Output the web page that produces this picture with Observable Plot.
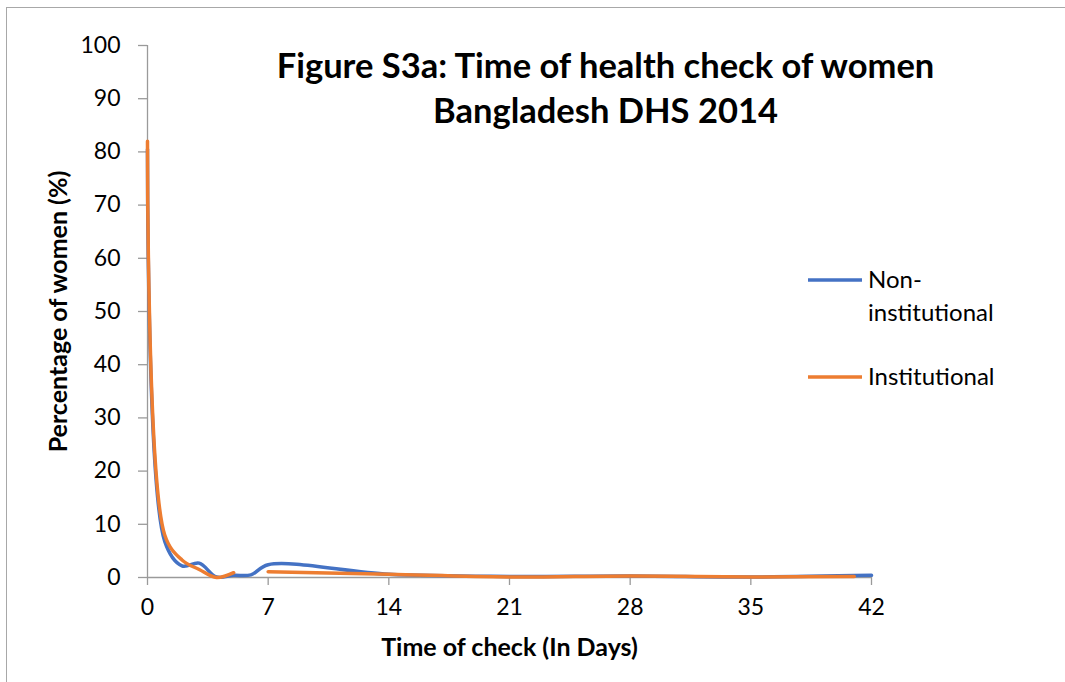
<!DOCTYPE html>
<html><head><meta charset="utf-8">
<script src="https://cdn.jsdelivr.net/npm/d3@7"></script>
<script src="https://cdn.jsdelivr.net/npm/@observablehq/plot@0.6"></script>
<style>
body{margin:0;background:#fff;}
#wrap{position:relative;width:1065px;height:682px;}
#frame{position:absolute;left:6px;top:7px;right:0;bottom:0;border-left:1.5px solid #a8a8a8;border-top:1.5px solid #a8a8a8;pointer-events:none;}
</style>
</head><body>
<div id="wrap"><div id="frame"></div></div>
<script>
// ---- data ----
const titleText = "Figure S3a: Time of health check of women\nBangladesh DHS 2014";
const xLabel = "Time of check (In Days)";
const yLabel = "Percentage of women (%)";
const seriesNames = ["Non-institutional", "Institutional"];
const legendLines = [["Non-", "institutional"], ["Institutional"]];
const colors = ["#4472C4", "#ED7D31"];
const nonInstDays = [0, 1, 2, 3, 4, 5, 6, 7, 14, 21, 28, 35, 42];
const nonInstValues = [80.5, 6.8, 2.2, 2.7, 0.1, 0.4, 0.5, 2.4, 0.6, 0.2, 0.3, 0.1, 0.4];
const instDays = [0, 1, 2, 3, 4, 5, 6, 7, 14, 21, 28, 35, 41];
const instValues = [82, 8.0, 3.3, 1.5, 0.0, 0.9, null, 1.1, 0.6, 0.1, 0.3, 0.1, 0.2];
const xTicks = [0, 7, 14, 21, 28, 35, 42];
const yTicks = [0, 10, 20, 30, 40, 50, 60, 70, 80, 90, 100];

const nonRows = nonInstDays.map((d, i) => ({day: d, value: nonInstValues[i]}));
const instRows = instDays.map((d, i) => ({day: d, value: instValues[i]}));

const axisColor = "#9a9a9a";
const font = "Lato, 'Open Sans', sans-serif";

const chart = Plot.plot({
  width: 1065,
  height: 682,
  marginLeft: 147,
  marginRight: 194,
  marginTop: 45,
  marginBottom: 105,
  style: {fontFamily: font, background: "transparent", color: "#000", overflow: "visible"},
  x: {domain: [0, 42]},
  y: {domain: [0, 100]},
  marks: [
    Plot.axisX({ticks: xTicks, tickSize: 8, tickPadding: 13, stroke: axisColor, fill: "#000", fontSize: 23, label: null, strokeWidth: 1.3}),
    Plot.axisY({ticks: yTicks, tickSize: 9, tickPadding: 18, stroke: axisColor, fill: "#000", fontSize: 23, label: null, strokeWidth: 1.3}),
    Plot.ruleX([0], {stroke: axisColor, strokeWidth: 1.3}),
    Plot.ruleY([0], {stroke: axisColor, strokeWidth: 1.3}),
    Plot.line(nonRows, {x: "day", y: "value", stroke: colors[0], strokeWidth: 3.5, curve: "catmull-rom"}),
    Plot.line(instRows, {x: "day", y: "value", stroke: colors[1], strokeWidth: 3.5, curve: "catmull-rom"}),
    Plot.text([titleText], {frameAnchor: "top", dx: 96, dy: 1, lineAnchor: "top", lineHeight: 1.3, fontSize: 34.5, fontWeight: "bold", fill: "#000"}),
    Plot.text([xLabel], {frameAnchor: "bottom", dy: 78, fontSize: 25, fontWeight: "bold", fill: "#000"}),
    Plot.text([yLabel], {frameAnchor: "left", textAnchor: "middle", dx: -89, rotate: -90, fontSize: 25, fontWeight: "bold", fill: "#000"})
  ]
});
document.getElementById("wrap").appendChild(chart);

// legend
const svg = d3.select(chart);
const lg = svg.append("g").attr("font-family", font).attr("font-size", 24).attr("text-anchor", "start");
const legendY = [280, 377];
legendLines.forEach((lines, i) => {
  lg.append("line").attr("x1", 808).attr("x2", 862).attr("y1", legendY[i]).attr("y2", legendY[i])
    .attr("stroke", colors[i]).attr("stroke-width", 3.5);
  lines.forEach((t, j) => {
    lg.append("text").attr("x", 868).attr("y", legendY[i] + 8 + j * 33).attr("fill", "#000").text(t);
  });
});
</script>
</body></html>
